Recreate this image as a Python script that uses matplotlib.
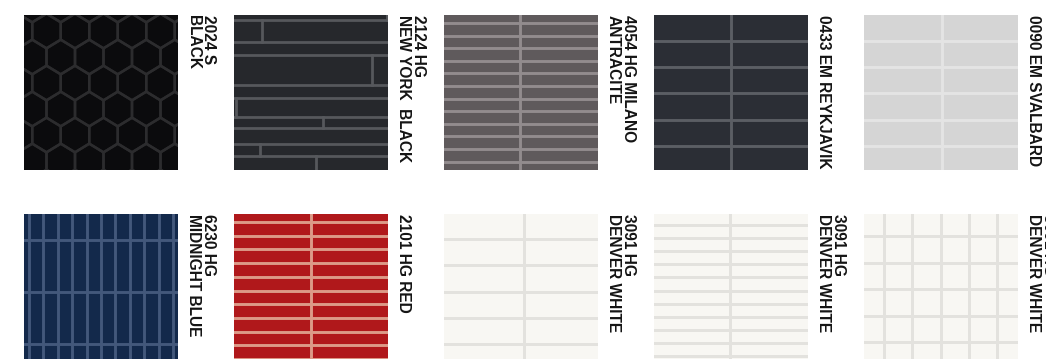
import numpy as np
import matplotlib
matplotlib.use('Agg')
import matplotlib.pyplot as plt
from matplotlib.patches import Polygon

# Swatch data (row by row, left to right)
labels = ['2024 S\nBLACK', '2124 HG\nNEW YORK  BLACK', '4054 HG MILANO\nANTRACITE',
          '0433 EM REYKJAVIK', '0090 EM SVALBARD',
          '6230 HG\nMIDNIGHT BLUE', '2101 HG RED', '3091 HG\nDENVER WHITE',
          '3091 HG\nDENVER WHITE', '3091 HG\nDENVER WHITE']
tile_colors = ['#0b0b0d', '#26282c', '#5f5a5c', '#2b2e35', '#d5d5d5',
               '#13294b', '#b0181b', '#f8f7f3', '#f8f7f3', '#f8f7f3']
grout_colors = ['#2c2c2e', '#56585c', '#928c8e', '#5b5e64', '#e4e4e4',
                '#43587b', '#dc9a88', '#e3e2de', '#e3e2de', '#e3e2de']
# kind of layout for each swatch
patterns = ['hex', 'strips', 'grid', 'grid', 'grid', 'grid', 'grid', 'grid', 'grid', 'grid']
# course height / first course line, joint width / first joint (in swatch px)
course_h = [0, 0, 12.6, 26.2, 26.2, 52, 13.7, 26.3, 13.1, 26.5]
course_off = [0, 0, 8, 26, 26, 26, 8, 25, 11, 22]
joint_w = [0, 0, 160, 160, 160, 14.4, 160, 160, 160, 28.3]
joint_off = [0, 0, 76, 77, 78, 5, 77, 80, 76, 20]

# random-length strip layout of 2124 HG New York
ny_lines = [5, 27, 40, 70, 83, 102, 113, 129, 141]
ny_joints = [(0, 5, 153), (5, 27, 28), (40, 70, 138), (83, 102, 2),
             (102, 113, 89), (129, 141, 26), (141, 155, 82)]

# hexagon mosaic of 2024 S
hex_w, hex_row = 28.5, 26.0

W, H = 1046, 359
fig = plt.figure(figsize=(W / 100, H / 100), dpi=100)
fig.patch.set_facecolor('white')

tile_w, tile_h = 154, 155
col_left = [24 + i * 210 for i in range(5)]
row_top = [15, 214]


def draw_swatch(ax, k):
    ax.set_xlim(0, tile_w)
    ax.set_ylim(tile_h, 0)
    ax.set_facecolor(tile_colors[k])
    for s in ax.spines.values():
        s.set_visible(False)
    ax.set_xticks([])
    ax.set_yticks([])
    gc = grout_colors[k]
    if patterns[k] == 'hex':
        hh = hex_row / 0.75
        for r in range(-1, 8):
            cy = 16 + r * hex_row
            shift = 0 if r % 2 == 0 else hex_w / 2
            for c in range(-1, 7):
                cx = 22.5 + shift + c * hex_w
                verts = [(cx, cy - hh / 2), (cx + hex_w / 2, cy - hh / 4),
                         (cx + hex_w / 2, cy + hh / 4), (cx, cy + hh / 2),
                         (cx - hex_w / 2, cy + hh / 4), (cx - hex_w / 2, cy - hh / 4)]
                ax.add_patch(Polygon(verts, closed=True, fill=False,
                                     edgecolor=gc, lw=1.8))
    elif patterns[k] == 'strips':
        for y in ny_lines:
            ax.axhline(y, color=gc, lw=2)
        for y0, y1, x in ny_joints:
            ax.plot([x, x], [y0, y1], color=gc, lw=2)
    else:
        y = course_off[k]
        while y < tile_h - 1:
            ax.axhline(y, color=gc, lw=2.1)
            y += course_h[k]
        x = joint_off[k]
        while x < tile_w - 1:
            ax.axvline(x, color=gc, lw=2.1)
            x += joint_w[k]


for k in range(len(labels)):
    row, col = divmod(k, 5)
    x0, y0 = col_left[col], row_top[row]
    ax = fig.add_axes([x0 / W, 1 - (y0 + tile_h) / H, tile_w / W, tile_h / H])
    draw_swatch(ax, k)
    fig.text((x0 + tile_w + 8) / W, 1 - y0 / H, labels[k], rotation=-90,
             ha='left', va='top', multialignment='left',
             fontsize=11.2, fontweight='bold', family='Liberation Sans',
             color='#141414', linespacing=1.0)

fig.savefig('out.png', dpi=100)
